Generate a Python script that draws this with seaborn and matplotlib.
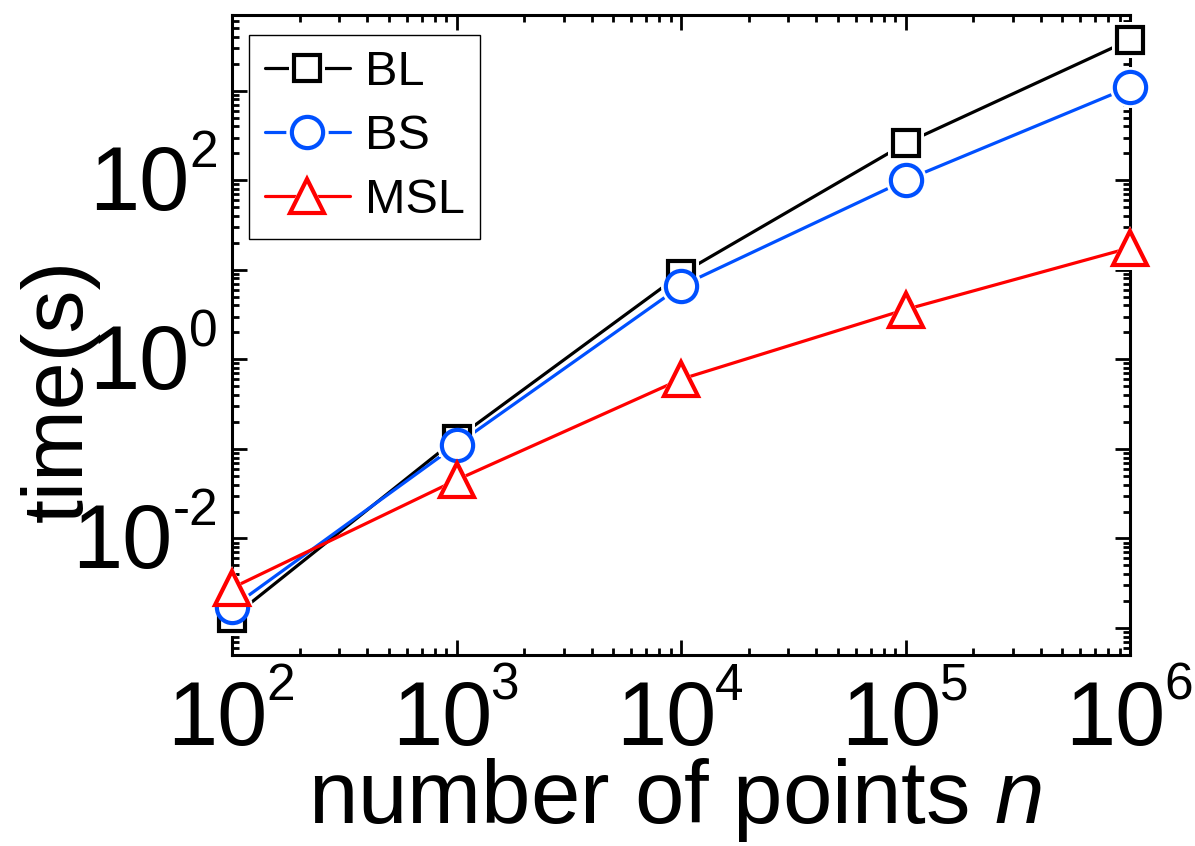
import numpy as np
import pandas as pd
import matplotlib
matplotlib.use("Agg")
import matplotlib.pyplot as plt
from matplotlib.lines import Line2D
from matplotlib.legend_handler import HandlerTuple
from matplotlib.ticker import LogLocator, NullFormatter, FixedLocator
import seaborn as sns

# data
n_points = [1e2, 1e3, 1e4, 1e5, 1e6]
time_bl = [1.3e-3, 0.13, 9.0, 258, 3.7e3]
time_bs = [1.7e-3, 0.111, 6.6, 100, 1.1e3]
time_msl = [2.8e-3, 0.045, 0.6, 3.6, 17.6]

names = ["BL", "BS", "MSL"]
colors = ["black", "#0050ff", "#ff0000"]
markers = ["s", "o", "^"]
msizes = [18.5, 22.5, 24]

x_exps = ["2", "3", "4", "5", "6"]
y_ticks = [1e-2, 1e0, 1e2]
y_exps = ["-2", "0", "2"]

sns.set_style("ticks")
plt.rcParams["font.family"] = ["Liberation Sans", "DejaVu Sans"]
plt.rcParams["mathtext.fontset"] = "custom"
plt.rcParams["mathtext.rm"] = "Liberation Sans"
plt.rcParams["mathtext.it"] = "Liberation Sans:italic"
for k in ["text.color", "axes.labelcolor", "xtick.color", "ytick.color", "axes.edgecolor"]:
    plt.rcParams[k] = "black"

PX = 0.72  # points per pixel at dpi 100

fig = plt.figure(figsize=(11.95, 8.46), dpi=100)
ax = fig.add_axes([232 / 1195, 1 - 655 / 846, 898 / 1195, 640 / 846])

series = [time_bl, time_bs, time_msl]
handles = []
for name, ys, c, m, ms in zip(names, series, colors, markers, msizes):
    df = pd.DataFrame({"n": n_points, "t": ys})
    # line
    sns.lineplot(data=df, x="n", y="t", color=c, lw=2.3, ax=ax, zorder=2, legend=False)
    # white halo so lines stop short of markers
    sns.lineplot(data=df, x="n", y="t", linestyle="", marker=m, ms=ms + 7, mfc="white",
                 mec="white", mew=0, ax=ax, zorder=3, legend=False, clip_on=False)
    # open markers
    sns.lineplot(data=df, x="n", y="t", linestyle="", marker=m, ms=ms, mfc="white",
                 mec=c, mew=3, ax=ax, zorder=4, legend=False, clip_on=False)
    h_line = Line2D([], [], color=c, lw=2.3)
    h_halo = Line2D([], [], linestyle="", marker=m, ms=ms + 8, mfc="white", mec="white", mew=0)
    h_mark = Line2D([], [], linestyle="", marker=m, ms=ms, mfc="white", mec=c, mew=3)
    handles.append((h_line, h_halo, h_mark))

ax.set_xscale("log")
ax.set_yscale("log")
ax.set_xlim(1e2, 1e6)
ax.set_ylim(5e-4, 7e3)

ax.xaxis.set_major_locator(FixedLocator(n_points))
ax.xaxis.set_minor_locator(LogLocator(base=10, subs=np.arange(2, 10), numticks=20))
ax.xaxis.set_minor_formatter(NullFormatter())
ax.set_xticklabels([])

ax.yaxis.set_major_locator(FixedLocator([1e-3, 1e-2, 1e-1, 1e0, 1e1, 1e2, 1e3]))
ax.yaxis.set_minor_locator(LogLocator(base=10, subs=np.arange(2, 10), numticks=20))
ax.yaxis.set_minor_formatter(NullFormatter())
ax.set_yticklabels([])

ax.tick_params(which="both", direction="in", top=True, right=True, width=2)
ax.tick_params(which="major", length=11)
ax.tick_params(which="minor", length=5)
for s in ax.spines.values():
    s.set_linewidth(2.2)

# tick labels as "10" plus a small raised exponent
base_fs, sup_fs = 65, 37
sup_em_px = sup_fs / PX
for xv, e in zip(n_points, x_exps):
    ax.annotate("10", xy=(xv, 0), xycoords=("data", "axes fraction"),
                xytext=(-14.5 * PX, -90 * PX), textcoords="offset points",
                ha="center", va="baseline", fontsize=base_fs, annotation_clip=False)
    ax.annotate(e, xy=(xv, 0), xycoords=("data", "axes fraction"),
                xytext=(34 * PX, -45 * PX), textcoords="offset points",
                ha="left", va="baseline", fontsize=sup_fs, annotation_clip=False)
for yv, e in zip(y_ticks, y_exps):
    sup_w = sum(0.333 if ch == "-" else 0.556 for ch in e) * sup_em_px
    ax.annotate(e, xy=(0, yv), xycoords=("axes fraction", "data"),
                xytext=(-14 * PX, 13 * PX), textcoords="offset points",
                ha="right", va="baseline", fontsize=sup_fs, annotation_clip=False)
    ax.annotate("10", xy=(0, yv), xycoords=("axes fraction", "data"),
                xytext=((-14 - sup_w) * PX, -30 * PX), textcoords="offset points",
                ha="right", va="baseline", fontsize=base_fs, annotation_clip=False)

ax.set_xlabel(r"number of points $n$", fontsize=64)
ax.set_ylabel("time(s)", fontsize=62)
ax.xaxis.label.set_verticalalignment("baseline")
ax.xaxis.set_label_coords(0.493, -0.2625)
ax.yaxis.set_label_coords(-0.147, 0.414)

leg = ax.legend(handles=handles, labels=names, handler_map={tuple: HandlerTuple(ndivide=1)},
                loc="upper left", bbox_to_anchor=(0.019, 0.969),
                fontsize=35, frameon=True, fancybox=False, framealpha=1,
                edgecolor="black", handlelength=1.75, handletextpad=0.31,
                borderpad=0.32, labelspacing=0.39, borderaxespad=0)
leg.get_frame().set_linewidth(1.0)

fig.savefig("out.png", dpi=100)
